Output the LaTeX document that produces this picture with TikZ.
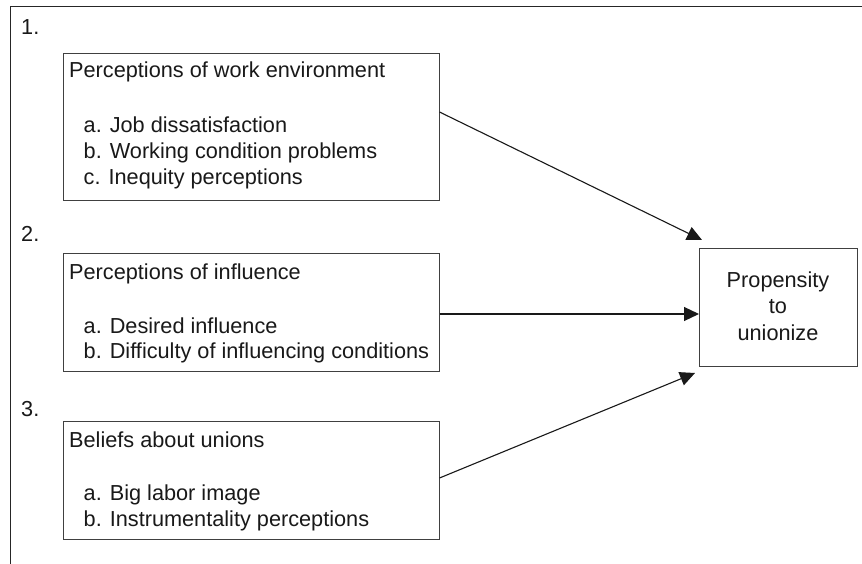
\documentclass[tikz,border=0pt]{standalone}
\usepackage{fontspec}
\setmainfont{Liberation Sans}
\usetikzlibrary{arrows.meta,calc}
\begin{document}
\begin{tikzpicture}[x=1pt,y=-1pt,
  frameline/.style={line width=1.4pt,black!85},
  boxstyle/.style={draw=black!75,line width=1pt,anchor=north west,inner sep=0pt,minimum width=#1},
  txt/.style={anchor=base west,inner sep=0pt,text=black!90,font=\fontsize{21.7}{26.4}\selectfont},
  ctxt/.style={anchor=base,inner sep=0pt,text=black!90,font=\fontsize{21.7}{26.4}\selectfont},
  arr/.style={line width=1.1pt,black!90,-{Triangle[length=15pt,width=14pt]}}
]
\useasboundingbox (0,0) rectangle (862,564);
\fill[white] (0,0) rectangle (862,564);
% frame
\coordinate (fA) at (10.5,564);
\coordinate (fB) at (10.5,6.5);
\coordinate (fC) at (862,6.5);
\draw[frameline] (fA) -- (fB) -- (fC);
% boxes
\node[boxstyle=376pt,minimum height=147pt] (b1) at (62.5,53) {};
\node[boxstyle=376pt,minimum height=118pt] (b2) at (62.5,253) {};
\node[boxstyle=376pt,minimum height=118pt] (b3) at (62.5,421) {};
\node[boxstyle=158pt,minimum height=118pt] (prop) at (699,248) {};
% numbers
\node[txt] (n1) at (21,35) {1.};
\node[txt] (n2) at (21,241) {2.};
\node[txt] (n3) at (21,416) {3.};
% box 1 text
\node[txt] (b1t) at (69,78) {Perceptions of work environment};
\node[txt] (b1a) at (83.5,133) {a. Job dissatisfaction};
\node[txt] (b1b) at (83.5,159) {b. Working condition problems};
\node[txt] (b1c) at (83.5,185) {c. Inequity perceptions};
% box 2 text
\node[txt] (b2t) at (69,279) {Perceptions of influence};
\node[txt] (b2a) at (83.5,333) {a. Desired influence};
\node[txt] (b2b) at (83.5,358.5) {b. Difficulty of influencing conditions};
% box 3 text
\node[txt] (b3t) at (69,447) {Beliefs about unions};
\node[txt] (b3a) at (83.5,500) {a. Big labor image};
\node[txt] (b3b) at (83.5,526.5) {b. Instrumentality perceptions};
% propensity text
\node[ctxt] (p1) at (778,287) {Propensity};
\node[ctxt] (p2) at (778,313) {to};
\node[ctxt] (p3) at (778,340) {unionize};
% arrows
\coordinate (s1) at ($(b1.north east)+(0,59)$);
\coordinate (t1) at ($(prop.north west)+(3,-8)$);
\coordinate (s2) at ($(b2.north east)+(0,61)$);
\coordinate (t2) at ($(prop.north west)+(0,66)$);
\coordinate (s3) at ($(b3.north east)+(0,57)$);
\coordinate (t3) at ($(prop.south west)+(-4,6)$);
\draw[arr] (s1) -- (t1);
\draw[arr] (s2) -- (t2);
\draw[arr] (s3) -- (t3);
\end{tikzpicture}
\end{document}
